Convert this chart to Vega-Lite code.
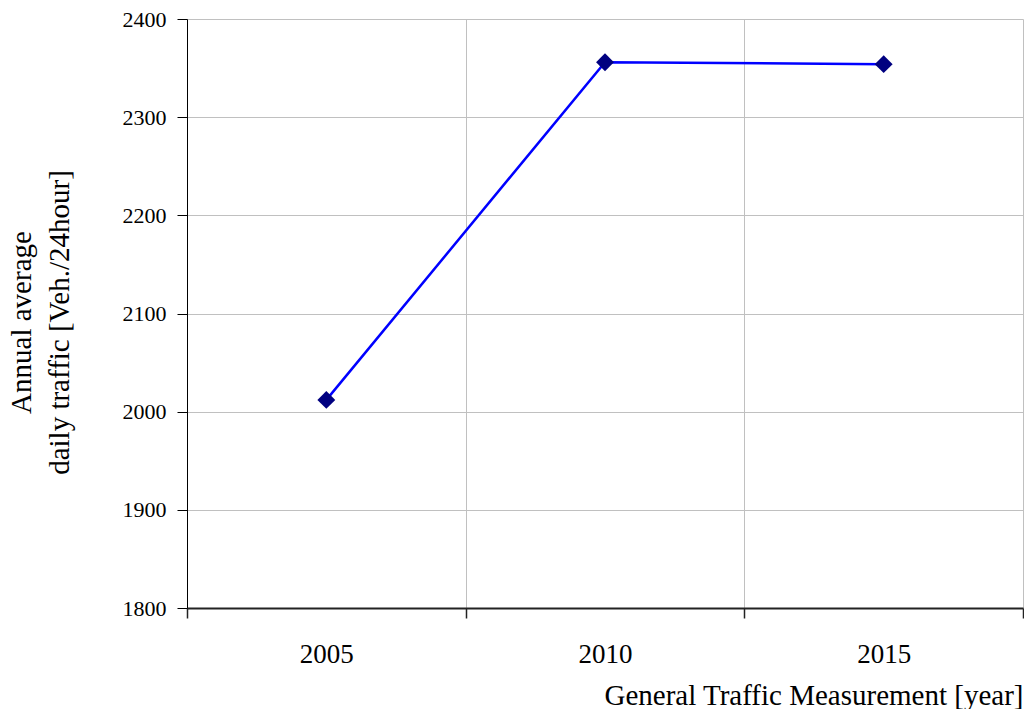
{
  "$schema": "https://vega.github.io/schema/vega-lite/v6.json",
  "width": 836,
  "height": 589,
  "autosize": {"type": "none"},
  "padding": {"left": 187, "top": 19, "right": 1, "bottom": 101},
  "background": "white",
  "config": {
    "view": {"stroke": null},
    "font": "Liberation Serif"
  },
  "data": {
    "values": [
      {"year": "2005", "traffic": 2012},
      {"year": "2010", "traffic": 2356},
      {"year": "2015", "traffic": 2354}
    ]
  },
  "encoding": {
    "x": {
      "field": "year",
      "type": "ordinal",
      "scale": {"paddingInner": 0, "paddingOuter": 0},
      "axis": {
        "title": "General Traffic Measurement [year]",
        "labelAngle": 0,
        "tickBand": "extent",
        "grid": true,
        "gridColor": "#c0c0c0",
        "gridWidth": 1,
        "domainColor": "#222222",
        "domainWidth": 2,
        "tickColor": "#222222",
        "tickWidth": 1.5,
        "tickSize": 10,
        "labelFont": "Liberation Serif",
        "labelFontSize": 27,
        "labelColor": "black",
        "labelBaseline": "alphabetic",
        "labelPadding": 44,
        "titleFont": "Liberation Serif",
        "titleFontSize": 29,
        "titleFontWeight": "normal",
        "titleColor": "black",
        "titleAnchor": "end",
        "titleAlign": "right",
        "titleBaseline": "alphabetic",
        "titleX": 836,
        "titleY": 96
      }
    },
    "y": {
      "field": "traffic",
      "type": "quantitative",
      "scale": {"domain": [1800, 2400], "nice": false, "zero": false},
      "axis": {
        "title": ["Annual average", "daily traffic [Veh./24hour]"],
        "values": [1800, 1900, 2000, 2100, 2200, 2300, 2400],
        "format": "d",
        "grid": true,
        "gridColor": "#c0c0c0",
        "gridWidth": 1,
        "domainColor": "black",
        "domainWidth": 1,
        "tickColor": "black",
        "tickSize": 10,
        "labelFont": "Liberation Serif",
        "labelFontSize": 22,
        "labelColor": "black",
        "labelPadding": 11,
        "titleFont": "Liberation Serif",
        "titleFontSize": 29,
        "titleFontWeight": "normal",
        "titleColor": "black",
        "titleAngle": -90,
        "titleAlign": "center",
        "titleBaseline": "alphabetic",
        "titleLineHeight": 38,
        "titleX": -157,
        "titleY": 303
      }
    }
  },
  "layer": [
    {"mark": {"type": "line", "color": "#0000FF", "strokeWidth": 2.5}},
    {"mark": {"type": "point", "shape": "diamond", "filled": true, "color": "#000080", "size": 320, "opacity": 1}}
  ]
}
